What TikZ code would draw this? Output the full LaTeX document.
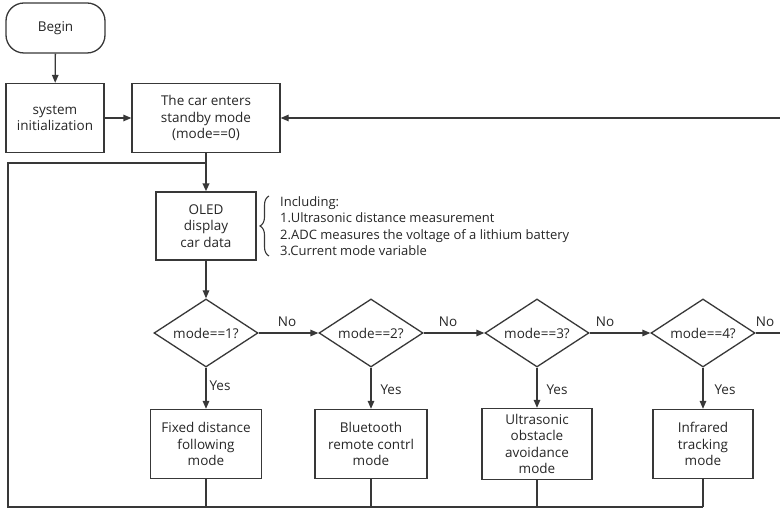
\documentclass[tikz,border=0pt]{standalone}
\usepackage{fontspec}
\setmainfont{Open Sans}
\usetikzlibrary{arrows.meta,shapes.geometric,decorations.pathreplacing}
\definecolor{ln}{HTML}{383838}
\definecolor{tx}{HTML}{262626}
\begin{document}
\begin{tikzpicture}[x=1pt,y=1pt,
 every node/.style={text=tx,font=\fontsize{13.5}{16.5}\selectfont},
 box/.style={draw=ln,line width=1.3pt,rectangle,align=center,inner sep=0pt},
 term/.style={box,rounded corners=18pt},
 dec/.style={draw=ln,line width=1.3pt,diamond,aspect=1.5,inner sep=0pt,minimum width=104pt,minimum height=68pt},
 flow/.style={draw=ln,line width=1.3pt,-{Triangle[length=8pt,width=6.5pt]}},
 plain/.style={draw=ln,line width=1.3pt},
 loopln/.style={draw=ln,line width=2.3pt,line join=miter},
 lbl/.style={inner sep=0pt}]
\useasboundingbox (0,0) rectangle (780,511);
\fill[white] (0,0) rectangle (780,511);

% nodes
\node[term,minimum width=99pt,minimum height=50pt] (begin) at (55.5,483) {Begin};
\node[box,minimum width=98pt,minimum height=69pt] (init) at (55,393) {system\\initialization};
\node[box,minimum width=148pt,minimum height=69pt] (standby) at (206,393) {The car enters\\standby mode\\(mode==0)};
\node[box,minimum width=100pt,minimum height=68pt] (oled) at (206,285) {OLED\\display\\car data};

\node[dec] (d1) at (206,178) {mode==1?};
\node[dec] (d2) at (371,178) {mode==2?};
\node[dec] (d3) at (537,178) {mode==3?};
\node[dec] (d4) at (703,178) {mode==4?};

\node[box,minimum width=111pt,minimum height=69pt] (m1) at (206,67) {Fixed distance\\following\\mode};
\node[box,minimum width=112pt,minimum height=69pt] (m2) at (371,67) {Bluetooth\\remote contrl\\mode};
\node[box,minimum width=110pt,minimum height=71pt] (m3) at (537,67) {Ultrasonic\\obstacle\\avoidance\\mode};
\node[box,minimum width=100pt,minimum height=69pt] (m4) at (703,67) {Infrared\\tracking\\mode};

% annotation
\draw[ln,line width=1.1pt,decorate,decoration={brace,amplitude=9pt}] (269,255) -- (269,315);
\node[lbl,anchor=west,align=left,font=\fontsize{13}{16.5}\selectfont] (info) at (280,285) {Including:\\1.Ultrasonic distance measurement\\2.ADC measures the voltage of a lithium battery\\3.Current mode variable};

% labels
\node[lbl] (no1) at (287,189) {No};
\node[lbl] (no2) at (448,189) {No};
\node[lbl] (no3) at (605,189) {No};
\node[lbl] (no4) at (765,189) {No};
\node[lbl] (yes1) at (220,125) {Yes};
\node[lbl] (yes2) at (391,121) {Yes};
\node[lbl] (yes3) at (557,121) {Yes};
\node[lbl] (yes4) at (725,121) {Yes};

% coordinates
\coordinate (rin) at (780,393);
\coordinate (rout) at (780,178);
\coordinate (join) at (206,348);
\coordinate (tl) at (8,348);
\coordinate (bl) at (8,4);
\coordinate (br) at (703,4);

% connectors
\draw[flow] (begin) -- (init);
\draw[flow] (init) -- (standby);
\draw[flow] (rin) -- (standby);
\draw[plain] (standby) -- (join);
\draw[loopln,-{Triangle[length=8pt,width=6.5pt]}] (join) -- (oled);
\draw[flow] (oled) -- (d1);
\draw[flow] (d1) -- (d2);
\draw[flow] (d2) -- (d3);
\draw[flow] (d3) -- (d4);
\draw[plain] (d4) -- (rout);
\draw[flow] (d1) -- (m1);
\draw[flow] (d2) -- (m2);
\draw[flow] (d3) -- (m3);
\draw[flow] (d4) -- (m4);
\draw[plain] (m1) -- (m1 |- bl);
\draw[plain] (m2) -- (m2 |- bl);
\draw[plain] (m3) -- (m3 |- bl);
\draw[plain] (m4) -- (m4 |- bl);
\draw[loopln] (br) -- (bl) -- (tl) -- (join);
\end{tikzpicture}
\end{document}
